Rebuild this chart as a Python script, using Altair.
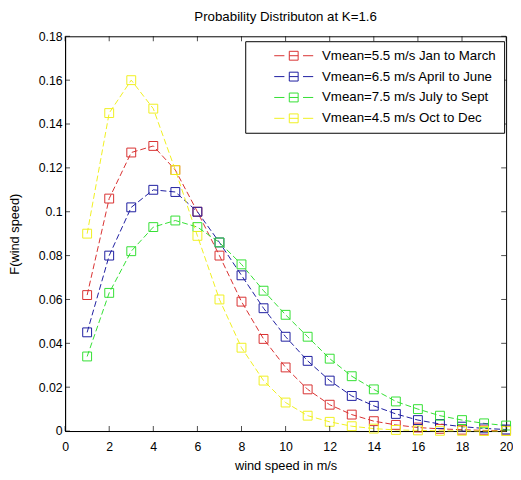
import altair as alt
import pandas as pd

speed = list(range(1, 21))
series_names = [
    "Vmean=5.5 m/s Jan to March",
    "Vmean=6.5 m/s April to June",
    "Vmean=7.5 m/s July to Sept",
    "Vmean=4.5 m/s Oct to Dec",
]
red = [0.062, 0.106, 0.127, 0.130, 0.119, 0.100, 0.080, 0.059, 0.042, 0.029,
       0.019, 0.012, 0.0075, 0.0045, 0.0028, 0.0016, 0.0010, 0.0006, 0.0003, 0.0002]
blue = [0.045, 0.080, 0.102, 0.110, 0.109, 0.100, 0.086, 0.071, 0.056, 0.043,
        0.032, 0.023, 0.016, 0.0115, 0.0078, 0.0050, 0.0032, 0.0020, 0.0012, 0.0007]
green = [0.034, 0.063, 0.082, 0.093, 0.096, 0.093, 0.086, 0.076, 0.064, 0.053,
         0.043, 0.033, 0.025, 0.019, 0.0135, 0.010, 0.007, 0.005, 0.0035, 0.0025]
yellow = [0.090, 0.145, 0.160, 0.147, 0.119, 0.089, 0.060, 0.038, 0.023, 0.013,
          0.007, 0.0042, 0.0022, 0.0011, 0.0005, 0.0003, 0.0001, 0.0001, 0.0, 0.0]
colors = ["#d83030", "#1c1ca0", "#33e033", "#f0f020"]
x_ticks = [0, 2, 4, 6, 8, 10, 12, 14, 16, 18, 20]
y_ticks = [0, 0.02, 0.04, 0.06, 0.08, 0.1, 0.12, 0.14, 0.16, 0.18]

rows = []
for name, vals in zip(series_names, [red, blue, green, yellow]):
    for s, v in zip(speed, vals):
        rows.append({"speed": s, "F": v, "series": name})
df = pd.DataFrame(rows)

FONT = "Liberation Sans"
XTITLE = "wind speed in m/s"
YTITLE = "F(wind speed)"
xscale = alt.Scale(domain=[0, 20], nice=False, zero=False)
yscale = alt.Scale(domain=[0, 0.18], nice=False, zero=False)
x_axis = alt.Axis(values=x_ticks, ticks=False, labelPadding=10, titlePadding=7, labelFlush=False)
y_axis = alt.Axis(values=y_ticks, ticks=False, labelPadding=3, titlePadding=17, format="~g")

legend = alt.Legend(
    title=None, orient="none", legendX=183, legendY=5,
    padding=8, strokeColor="black", fillColor="white",
    symbolType="M-4.4,0H-2.1M-1,0H1M2.1,0H4.4M-1,-1H1V1H-1Z",
    symbolSize=81, symbolStrokeWidth=1, symbolOffset=34.5,
    labelOffset=22, labelFont=FONT, labelFontSize=13.5, labelColor="black",
    labelExpr="datum.label + '\u00a0\u00a0\u00a0\u00a0'",
    rowPadding=6.2, labelLimit=400,
)
color = alt.Color("series:N", scale=alt.Scale(domain=series_names, range=colors), legend=legend)

x_enc = alt.X("speed:Q", scale=xscale, title=XTITLE, axis=x_axis)
y_enc = alt.Y("F:Q", scale=yscale, title=YTITLE, axis=y_axis)

base = alt.Chart(df)
lines = base.mark_line(strokeDash=[6, 3], strokeWidth=1).encode(
    x=x_enc, y=y_enc, color=color, detail="series:N",
)
points = base.mark_point(shape="square", size=81, filled=False, strokeWidth=1, opacity=1).encode(
    x=x_enc, y=y_enc, color=color,
)

xt = pd.DataFrame({"v": x_ticks})
yt = pd.DataFrame({"v": y_ticks})
tick_style = dict(color="black", thickness=1, size=5)
xv = alt.X("v:Q", scale=xscale, title=XTITLE, axis=x_axis)
yv = alt.Y("v:Q", scale=yscale, title=YTITLE, axis=y_axis)
bottom = alt.Chart(xt).mark_tick(orient="vertical", yOffset=-2.5, **tick_style).encode(
    x=xv, y=alt.YDatum(0, scale=yscale, title=YTITLE, axis=y_axis))
top = alt.Chart(xt).mark_tick(orient="vertical", yOffset=2.5, **tick_style).encode(
    x=xv, y=alt.YDatum(0.18, scale=yscale, title=YTITLE, axis=y_axis))
left = alt.Chart(yt).mark_tick(orient="horizontal", xOffset=2.5, **tick_style).encode(
    y=yv, x=alt.XDatum(0, scale=xscale, title=XTITLE, axis=x_axis))
right = alt.Chart(yt).mark_tick(orient="horizontal", xOffset=-2.5, **tick_style).encode(
    y=yv, x=alt.XDatum(20, scale=xscale, title=XTITLE, axis=x_axis))

chart = alt.layer(lines, points, bottom, top, left, right).properties(
    width=448, height=401,
    autosize="none",
    padding={"left": 58, "top": 25, "right": 7, "bottom": 46},
    title=alt.TitleParams("Probability Distributon at K=1.6", font=FONT, fontSize=13.5,
                          fontWeight="normal", color="black", anchor="middle", offset=7),
).configure(background="white").configure_view(stroke="black", strokeWidth=1).configure_axis(
    grid=False, domainColor="black", domainWidth=1, labelFont=FONT, labelFontSize=12.5,
    labelColor="black", titleFont=FONT, titleFontSize=13, titleFontWeight="normal",
    titleColor="black",
).configure_legend(labelFont=FONT, labelFontSize=13.5, labelColor="black")

chart.save("out.html", embed_options={"renderer": "svg", "actions": False})
